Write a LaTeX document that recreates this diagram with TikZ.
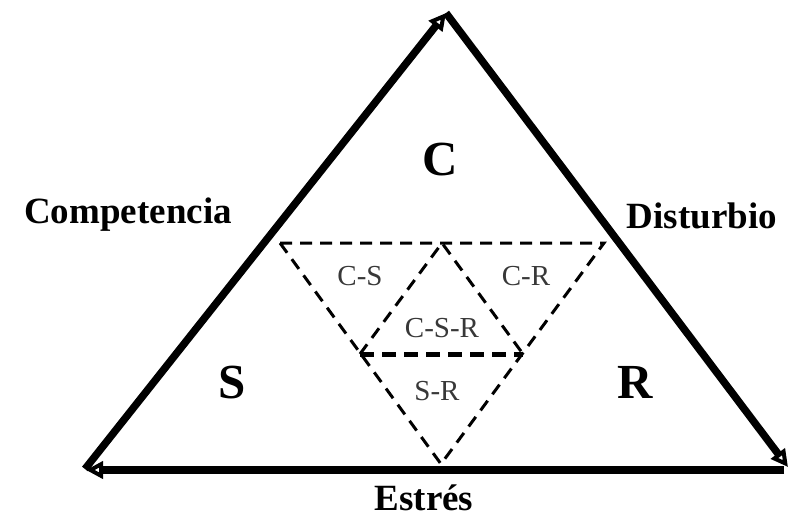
\documentclass[tikz,border=0pt]{standalone}
\usepackage{fontspec}
\setmainfont{Liberation Serif}
\usetikzlibrary{arrows.meta}
\begin{document}
\begin{tikzpicture}[x=1pt,y=-1pt,
  outer/.style={line width=7.5pt,-{Triangle[open,length=17pt,width=17pt,line width=4pt]}},
  dsh/.style={line width=3pt,dash pattern=on 12pt off 8pt},
  dshthick/.style={line width=5pt,dash pattern=on 14pt off 8pt},
  biglab/.style={font=\bfseries\fontsize{49}{50}\selectfont,anchor=base,inner sep=0pt},
  sidelab/.style={font=\bfseries\fontsize{37}{40}\selectfont,anchor=base,inner sep=0pt},
  smalllab/.style={font=\fontsize{29}{30}\selectfont,text=black!78,anchor=base,inner sep=0pt}]
\useasboundingbox (0,0) rectangle (793,520);
% outer vertices
\coordinate (BL) at (85,469);
\coordinate (T) at (446,13);
\coordinate (BR) at (788,467);
\coordinate (BRb) at (784,470);
\coordinate (BLb) at (86,470);
\draw[outer] (BL) -- (T);
\draw[outer] (T) -- (BR);
\draw[outer] (BRb) -- (BLb);
% dashed inverted triangle
\coordinate (A) at (280,243);
\coordinate (B) at (604,243);
\coordinate (D) at (441,464);
\draw[dsh] (A) -- (B) -- (D) -- cycle;
\coordinate (M1) at (442,243);
\coordinate (M2) at (360,354);
\coordinate (M3) at (523,354);
\draw[dsh] (M2) -- (M1) -- (M3);
\draw[dshthick] (M2) -- (M3);
% labels
\node[biglab] (lc) at (440,175) {C};
\node[biglab] (ls) at (232,398) {S};
\node[biglab] (lr) at (635,398) {R};
\node[sidelab] (comp) at (128,223) {Competencia};
\node[sidelab] (dist) at (702,228) {Disturbio};
\node[sidelab] (estr) at (424,510) {Estrés};
\node[smalllab] (cs) at (360,285) {C-S};
\node[smalllab] (cr) at (526,285) {C-R};
\node[smalllab] (csr) at (442,337) {C-S-R};
\node[smalllab] (sr) at (437,400) {S-R};
\end{tikzpicture}
\end{document}
